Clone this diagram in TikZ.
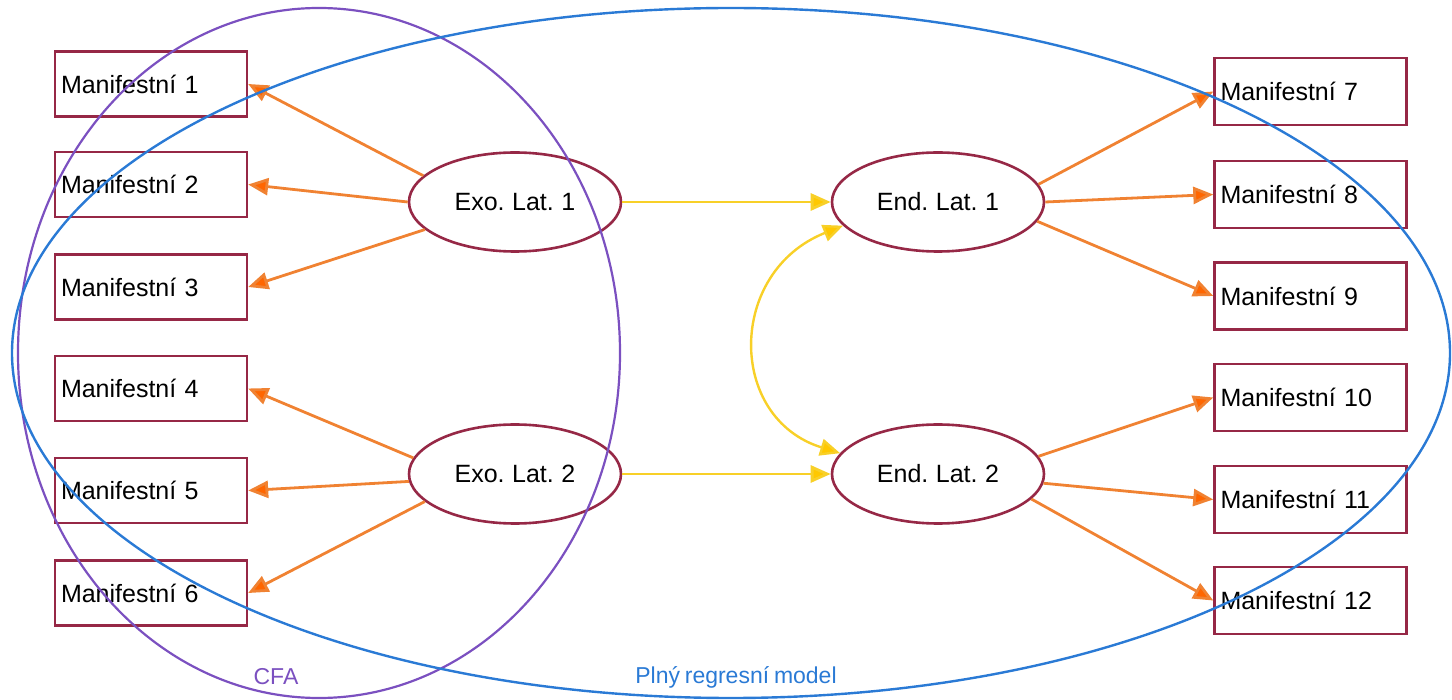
\documentclass[tikz,border=0pt]{standalone}
\usepackage{fontspec}
\setmainfont[WordSpace=0.75]{Liberation Sans}
\usetikzlibrary{arrows.meta,shapes.geometric}
\definecolor{boxred}{RGB}{150,40,70}
\definecolor{cfapurple}{RGB}{123,80,192}
\definecolor{modelblue}{RGB}{42,122,213}
\definecolor{arrorange}{RGB}{240,130,50}
\definecolor{headorange}{RGB}{255,102,0}
\definecolor{arryellow}{RGB}{248,208,40}
\definecolor{headyellow}{RGB}{255,200,0}
\tikzset{
  manbox/.style={draw=boxred, line width=2.4pt, rectangle, minimum width=192pt, minimum height=65pt,
    inner xsep=6pt, text width=180pt, align=left, font=\fontsize{25}{28}\selectfont},
  latent/.style={draw=boxred, line width=2.6pt, ellipse, minimum width=212pt, minimum height=99pt,
    inner sep=0pt, font=\fontsize{25}{28}\selectfont},
  loadarrow/.style={draw=arrorange, line width=2.8pt, -{Triangle[length=20pt,width=17pt,fill=headorange]}},
  strarrow/.style={draw=arryellow, line width=2.8pt, -{Triangle[length=20pt,width=17pt,fill=headyellow]}},
  corrarrow/.style={draw=arryellow, line width=2.4pt, {Triangle[length=20pt,width=17pt,fill=headyellow]}-{Triangle[length=20pt,width=17pt,fill=headyellow]}},
  grouplabel/.style={font=\fontsize{23}{26}\selectfont, inner sep=0pt}
}
\begin{document}
\begin{tikzpicture}[x=1pt,y=-1pt]
\useasboundingbox (0,0) rectangle (1452,700);
% manifest boxes left
\node[manbox] (m1) at (151,84) {Manifestní 1};
\node[manbox] (m2) at (151,184.5) {Manifestní 2};
\node[manbox] (m3) at (151,287) {Manifestní 3};
\node[manbox] (m4) at (151,388.5) {Manifestní 4};
\node[manbox] (m5) at (151,490.5) {Manifestní 5};
\node[manbox] (m6) at (151,593) {Manifestní 6};
% manifest boxes right
\node[manbox, minimum height=67pt] (m7) at (1310.5,91.5) {Manifestní 7};
\node[manbox, minimum height=67pt] (m8) at (1310.5,194.5) {Manifestní 8};
\node[manbox, minimum height=67pt] (m9) at (1310.5,296) {Manifestní 9};
\node[manbox, minimum height=67pt] (m10) at (1310.5,397.5) {Manifestní 10};
\node[manbox, minimum height=67pt] (m11) at (1310.5,499.5) {Manifestní 11};
\node[manbox, minimum height=67pt] (m12) at (1310.5,600.5) {Manifestní 12};
% latent variables
\node[latent] (exo1) at (515,202) {Exo. Lat. 1};
\node[latent] (exo2) at (515,474) {Exo. Lat. 2};
\node[latent] (end1) at (938,202) {End. Lat. 1};
\node[latent] (end2) at (938,474) {End. Lat. 2};
% loadings
\draw[loadarrow] (exo1.164) -- (m1.east);
\draw[loadarrow] (exo1.180) -- (m2.east);
\draw[loadarrow] (exo1.197) -- (m3.east);
\draw[loadarrow] (exo2.171) -- (m4.east);
\draw[loadarrow] (exo2.184) -- (m5.east);
\draw[loadarrow] (exo2.197) -- (m6.east);
\draw[loadarrow] (end1.10) -- (m7.west);
\draw[loadarrow] (end1.0) -- (m8.west);
\draw[loadarrow] (end1.-11) -- (m9.west);
\draw[loadarrow] (end2.10) -- (m10.west);
\draw[loadarrow] (end2.-5) -- (m11.west);
\draw[loadarrow] (end2.-15) -- (m12.west);
% structural paths
\draw[strarrow] (exo1.east) -- (end1.west);
\draw[strarrow] (exo2.east) -- (end2.west);
\draw[corrarrow] (end1.194) .. controls (727,272) and (727,418) .. (end2.168);
% group ellipses
\node[draw=cfapurple, line width=2.2pt, ellipse, minimum width=602pt, minimum height=690pt, inner sep=0pt] (cfa) at (319,353) {};
\node[draw=modelblue, line width=2.4pt, ellipse, minimum width=1438pt, minimum height=690pt, inner sep=0pt] (full) at (731,353) {};
\node[grouplabel, text=cfapurple] (cfalabel) at (276,677) {CFA};
\node[grouplabel, text=modelblue] (fulllabel) at (736,677) {Plný regresní model};
\end{tikzpicture}
\end{document}
